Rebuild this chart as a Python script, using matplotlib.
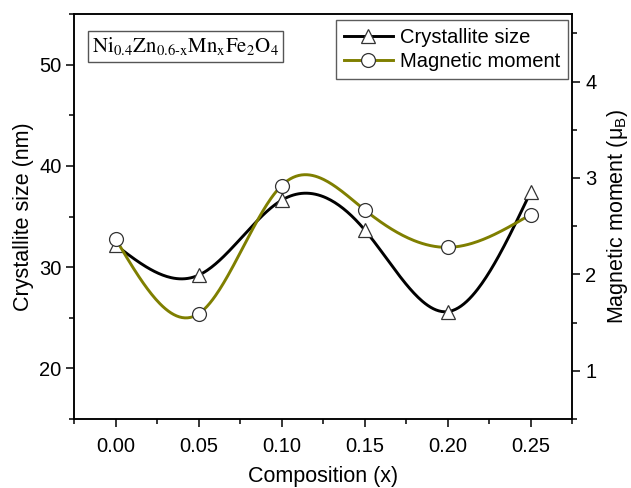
import numpy as np
import matplotlib
matplotlib.use('Agg')
import matplotlib.pyplot as plt
from matplotlib.ticker import MultipleLocator

plt.rcParams['font.family'] = ['Liberation Sans', 'DejaVu Sans']
plt.rcParams['mathtext.fontset'] = 'stix'

# Data
composition = [0.00, 0.05, 0.10, 0.15, 0.20, 0.25]
crystallite_size = [32.2, 29.2, 36.6, 33.7, 25.6, 37.4]
magnetic_moment = [2.37, 1.59, 2.92, 2.67, 2.28, 2.62]


def natural_spline(x, y, n=300):
    """Natural cubic spline through the points, used only to draw the smooth connecting line."""
    x = np.asarray(x, float)
    y = np.asarray(y, float)
    k = len(x)
    h = np.diff(x)
    a = np.zeros((k, k))
    b = np.zeros(k)
    a[0, 0] = a[-1, -1] = 1.0
    for i in range(1, k - 1):
        a[i, i - 1] = h[i - 1]
        a[i, i] = 2 * (h[i - 1] + h[i])
        a[i, i + 1] = h[i]
        b[i] = 6 * ((y[i + 1] - y[i]) / h[i] - (y[i] - y[i - 1]) / h[i - 1])
    m = np.linalg.solve(a, b)
    xs = np.linspace(x[0], x[-1], n)
    idx = np.clip(np.searchsorted(x, xs) - 1, 0, k - 2)
    x0, x1 = x[idx], x[idx + 1]
    hh = x1 - x0
    t0 = x1 - xs
    t1 = xs - x0
    ys = (m[idx] * t0 ** 3 + m[idx + 1] * t1 ** 3) / (6 * hh) \
        + (y[idx] / hh - m[idx] * hh / 6) * t0 \
        + (y[idx + 1] / hh - m[idx + 1] * hh / 6) * t1
    return xs, ys


fig = plt.figure(figsize=(6.31, 4.88), dpi=100)
ax = fig.add_axes([0.1173, 0.1414, 0.7892, 0.8299])
ax2 = ax.twinx()

olive = '#7f7f00'

# Crystallite size (left axis)
xs, ys = natural_spline(composition, crystallite_size)
ax.plot(xs, ys, color='black', lw=2.1, zorder=2)
ax.plot(composition, crystallite_size, ls='none', marker='^', ms=10,
        mfc='white', mec='#333333', mew=0.9, zorder=3)

# Magnetic moment (right axis)
xs, ys = natural_spline(composition, magnetic_moment)
ax2.plot(xs, ys, color=olive, lw=2.1, zorder=2)
ax2.plot(composition, magnetic_moment, ls='none', marker='o', ms=10,
         mfc='white', mec='#333333', mew=0.9, zorder=3)

ax.set_xlim(-0.025, 0.275)
ax.set_ylim(15, 55)
ax2.set_ylim(0.5, 4.7)

ax.xaxis.set_major_locator(MultipleLocator(0.05))
ax.xaxis.set_minor_locator(MultipleLocator(0.025))
ax.yaxis.set_major_locator(MultipleLocator(10))
ax.yaxis.set_minor_locator(MultipleLocator(5))
ax2.yaxis.set_major_locator(MultipleLocator(1))
ax2.yaxis.set_minor_locator(MultipleLocator(0.5))
ax.xaxis.set_major_formatter(matplotlib.ticker.FormatStrFormatter('%.2f'))

for a in (ax, ax2):
    for s in a.spines.values():
        s.set_linewidth(1.1)
    a.tick_params(which='major', direction='out', length=6, width=1.1, labelsize=14.5)
    a.tick_params(which='minor', direction='out', length=3.5, width=1.1)
ax.tick_params(axis='x', pad=7)
ax.tick_params(axis='y', pad=3)

ax.set_xlabel('Composition (x)', fontsize=15.5, labelpad=7)
ax.set_ylabel('Crystallite size (nm)', fontsize=15.5, labelpad=4)
ax2.set_ylabel(r'Magnetic moment ($\mathregular{\mu_B}$)', fontsize=15.5, labelpad=6)

# Legend
h1 = plt.Line2D([], [], color='black', lw=2.1, marker='^', ms=10,
                mfc='white', mec='#333333', mew=0.9)
h2 = plt.Line2D([], [], color=olive, lw=2.1, marker='o', ms=10,
                mfc='white', mec='#333333', mew=0.9)
leg = ax2.legend([h1, h2], ['Crystallite size', 'Magnetic moment'],
                 loc='upper right', bbox_to_anchor=(0.992, 0.985),
                 fontsize=14.5, frameon=True, fancybox=False,
                 handlelength=2.4, handletextpad=0.35, labelspacing=0.25,
                 borderpad=0.4, borderaxespad=0.0)
leg.get_frame().set_edgecolor('#333333')
leg.get_frame().set_linewidth(1.0)

# Composition label box
ax.text(0.036, 0.92,
        r'$\mathrm{Ni_{0.4}Zn_{0.6\text{-}x}Mn_{x}Fe_{2}O_{4}}$',
        transform=ax.transAxes, fontsize=15, va='center', ha='left',
        bbox=dict(boxstyle='square,pad=0.2', fc='white', ec='#555555', lw=1.0))

fig.savefig('out.png', dpi=100)
